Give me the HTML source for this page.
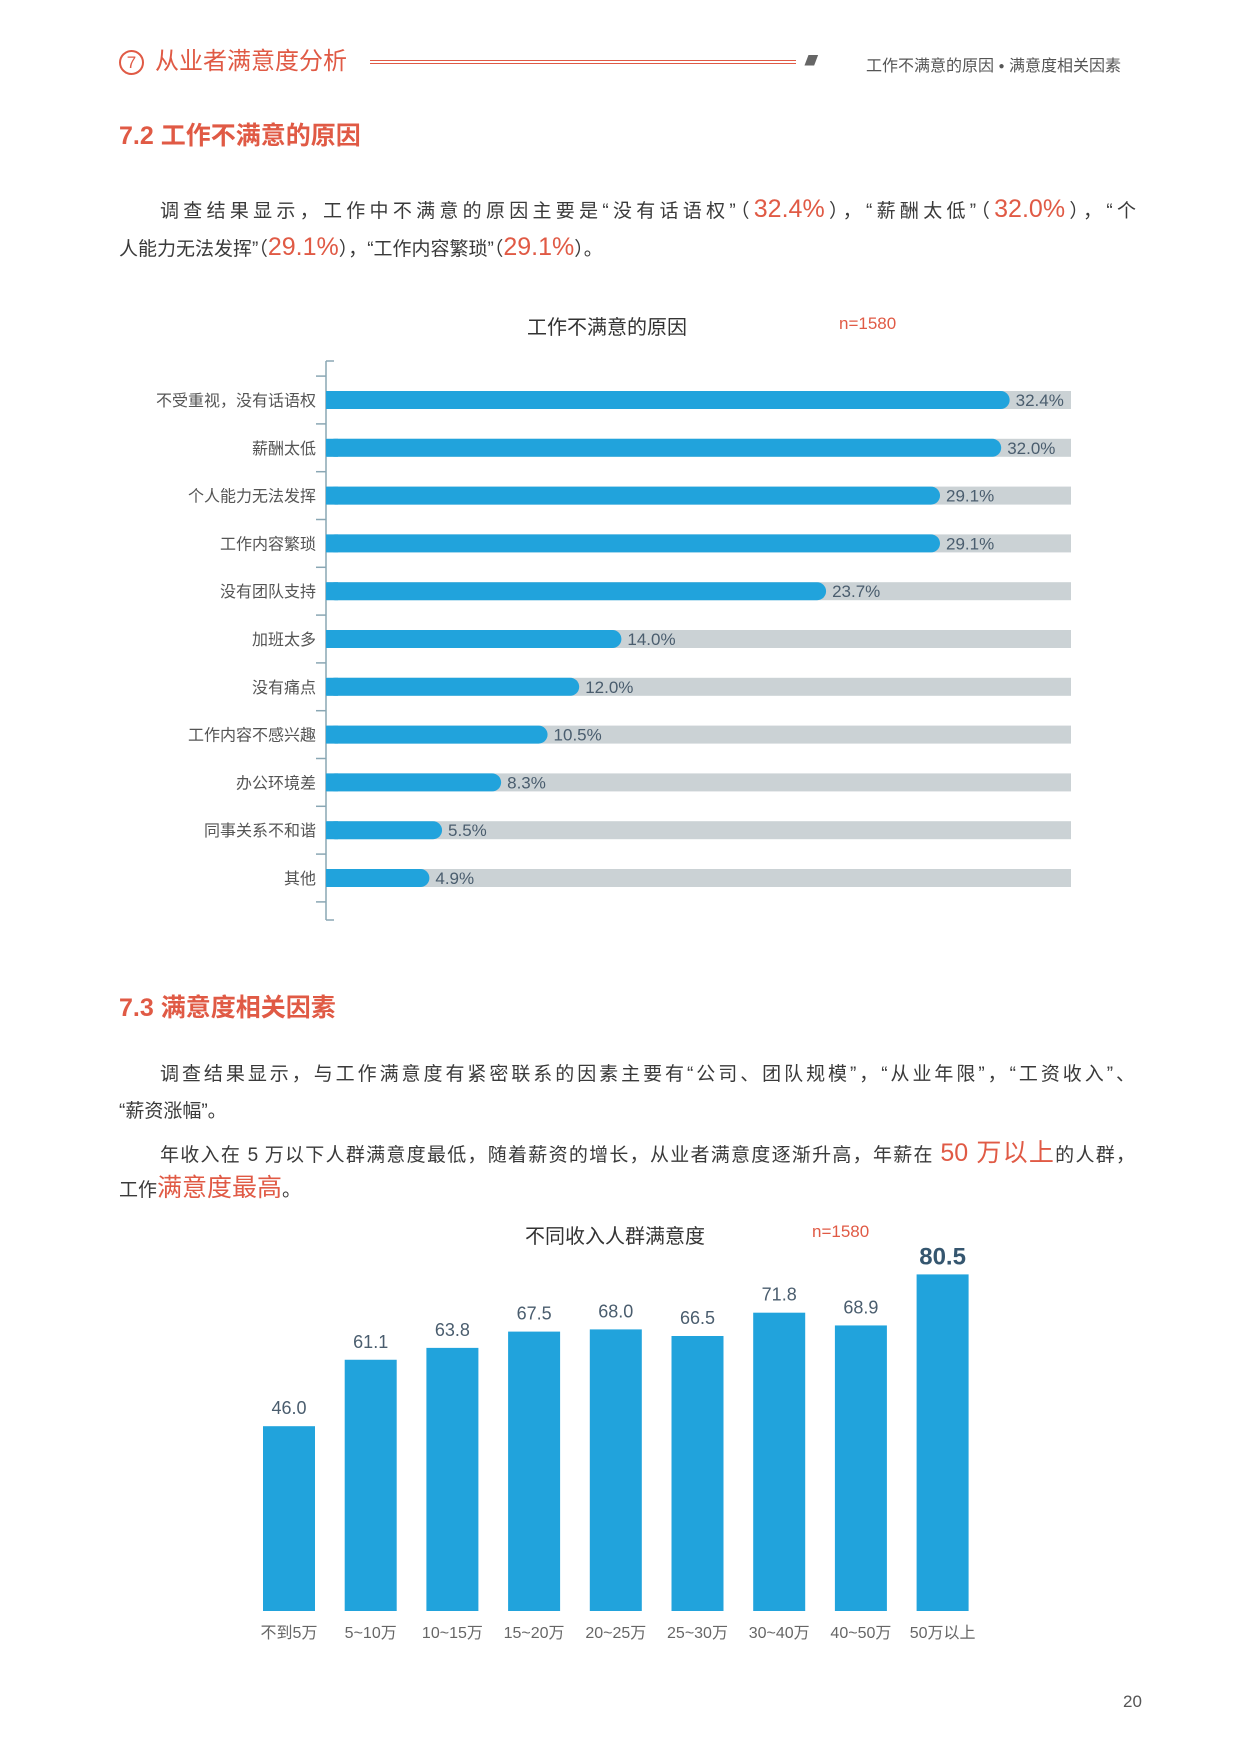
<!DOCTYPE html>
<html><head><meta charset="utf-8">
<style>
body{margin:0;background:#fff;}
#page{position:relative;width:1240px;height:1754px;overflow:hidden;background:#fff;font-family:"Liberation Sans","Noto Sans CJK SC",sans-serif;color:#444;}
.a{position:absolute;white-space:nowrap;}
.p{font-size:19px;line-height:26px;color:#3a3a3a;}
.j{text-align:justify;text-align-last:justify;}
.r{color:#e05a45;font-size:25px;}
</style></head><body>
<div id="page">
  <!-- header -->
  <div class="a" style="left:119px;top:50px;width:21px;height:21px;border:2px solid #e05a45;border-radius:50%;color:#e05a45;font-size:17px;line-height:21px;text-align:center;">7</div>
  <div class="a" style="left:155px;top:47px;font-size:24px;line-height:30px;color:#e05a45;">从业者满意度分析</div>
  <div class="a" style="left:370px;top:60px;width:426px;height:2px;border-top:1.5px solid #e05a45;border-bottom:1.5px solid #e05a45;"></div>
  <div class="a" style="left:805px;top:52px;font-size:14px;color:#666;letter-spacing:-3px;font-style:italic;font-weight:bold;">//////////</div>
  <div class="a" style="left:866px;top:52px;font-size:16px;color:#555;">工作不满意的原因 <span style="font-size:10px;vertical-align:2px;">●</span> 满意度相关因素</div>

  <div class="a" style="left:119px;top:116px;font-size:25px;font-weight:bold;color:#e05a45;">7.2 工作不满意的原因</div>
  <div class="a p j" style="left:160px;top:196px;width:976px;">调查结果显示，工作中不满意的原因主要是“没有话语权”（<span class="r">32.4%</span>），“薪酬太低”（<span class="r">32.0%</span>），“个</div>
  <div class="a p" style="left:119px;top:234px;">人能力无法发挥”（<span class="r">29.1%</span>），“工作内容繁琐”（<span class="r">29.1%</span>）。</div>

  <div class="a" style="left:527px;top:311px;font-size:20px;color:#333;">工作不满意的原因</div>
  <div class="a" style="left:839px;top:314px;font-size:17px;color:#e05a45;">n=1580</div>

  <svg class="a" id="chart1" style="left:0;top:340px;" width="1240" height="600"></svg>

  <div class="a" style="left:119px;top:988px;font-size:25px;font-weight:bold;color:#e05a45;">7.3 满意度相关因素</div>
  <div class="a p j" style="left:160px;top:1062px;width:975px;">调查结果显示，与工作满意度有紧密联系的因素主要有“公司、团队规模”，“从业年限”，“工资收入”、</div>
  <div class="a p" style="left:119px;top:1099px;">“薪资涨幅”。</div>
  <div class="a p j" style="left:160px;top:1140px;width:975px;">年收入在 5 万以下人群满意度最低，随着薪资的增长，从业者满意度逐渐升高，年薪在 <span class="r">50 万以上</span>的人群，</div>
  <div class="a p" style="left:119px;top:1175px;">工作<span class="r">满意度最高</span>。</div>

  <div class="a" style="left:525px;top:1220px;font-size:20px;color:#333;">不同收入人群满意度</div>
  <div class="a" style="left:812px;top:1222px;font-size:17px;color:#e05a45;">n=1580</div>

  <svg class="a" id="chart2" style="left:0;top:1240px;" width="1240" height="420"></svg>

  <div class="a" style="left:1123px;top:1692px;font-size:17px;color:#555;">20</div>
</div>
<script>
const reasonCategories = ["不受重视，没有话语权","薪酬太低","个人能力无法发挥","工作内容繁琐","没有团队支持","加班太多","没有痛点","工作内容不感兴趣","办公环境差","同事关系不和谐","其他"];
const reasonValues = [32.4,32.0,29.1,29.1,23.7,14.0,12.0,10.5,8.3,5.5,4.9];
const reasonLabels = ["32.4%","32.0%","29.1%","29.1%","23.7%","14.0%","12.0%","10.5%","8.3%","5.5%","4.9%"];

const incomeCategories = ["不到5万","5~10万","10~15万","15~20万","20~25万","25~30万","30~40万","40~50万","50万以上"];
const incomeValues = [46.0,61.1,63.8,67.5,68.0,66.5,71.8,68.9,80.5];
const incomeLabels = ["46.0","61.1","63.8","67.5","68.0","66.5","71.8","68.9","80.5"];

const NS = "http://www.w3.org/2000/svg";
function mk(svg, tag, attrs, text){
  const e = document.createElementNS(NS, tag);
  for (const k in attrs) e.setAttribute(k, attrs[k]);
  if (text !== undefined) e.textContent = text;
  svg.appendChild(e);
  return e;
}
// Chart 1 (svg top offset 340)
(function(){
  const svg = document.getElementById('chart1');
  const off = 340;
  const x0 = 326, pxPer = 21.1, trackMax = 1071;
  const y = i => 400 - off + i * 47.8;
  const x = v => x0 + v * pxPer;
  const axis = mk(svg, 'line', {x1:x0, y1:361-off, x2:x0, y2:920-off, stroke:'#8aa7b4', 'stroke-width':1.5});
  
  
  for (let i = 0; i <= reasonCategories.length; i++) {
    const ty = y(i) - 23.9;
    const t = mk(svg, 'line', {x1:x0-10, y1:ty, x2:x0, y2:ty, stroke:'#8aa7b4', 'stroke-width':1.5});
    
    
  }
  const topT = mk(svg, 'line', {x1:x0, y1:361-off, x2:x0+8, y2:361-off, stroke:'#8aa7b4', 'stroke-width':1.5});
  
  
  const botT = mk(svg, 'line', {x1:x0, y1:920-off, x2:x0+8, y2:920-off, stroke:'#8aa7b4', 'stroke-width':1.5});
  
  
  reasonCategories.forEach((c, i) => {
    const cy = y(i);
    const track = mk(svg, 'rect', {x:x0, y:cy-9, width:trackMax-x0, height:18, fill:'#cbd2d5'});
    
    
    const w = x(reasonValues[i]) - x0;
    const bar = mk(svg, 'rect', {x:x0, y:cy-9, width:w, height:18, rx:9, fill:'#21a3dc'});
    
    
    const sq = mk(svg, 'rect', {x:x0, y:cy-9, width:Math.min(12,w), height:18, fill:'#21a3dc'});
    
    
    const lab = mk(svg, 'text', {x:x0-10, y:cy+6, 'text-anchor':'end', 'font-size':16, fill:'#555'}, c);
    
    
    const val = mk(svg, 'text', {x:x(reasonValues[i])+6, y:cy+6, 'font-size':17, fill:'#4a5d6e'}, reasonLabels[i]);
    
    
  });
})();
// Chart 2 (svg top offset 1240)
(function(){
  const svg = document.getElementById('chart2');
  const off = 1240;
  const base = 1611, vmin = 4, pxPer = 4.4;
  const y = v => base - (v - vmin) * pxPer - off;
  const xc = i => 289 + i * 81.7;
  const bw = 52;
  incomeCategories.forEach((c, i) => {
    const top = y(incomeValues[i]);
    const bar = mk(svg, 'rect', {x:xc(i)-bw/2, y:top, width:bw, height:base-off-top, fill:'#21a3dc'});
    
    
    const last = i === incomeCategories.length - 1;
    const val = mk(svg, 'text', {x:xc(i), y:top - (last ? 10 : 12), 'text-anchor':'middle', 'font-size': last ? 24 : 18, 'font-weight': last ? 'bold' : 'normal', fill: last ? '#35566f' : '#4a5d6e'}, incomeLabels[i]);
    
    
    const lab = mk(svg, 'text', {x:xc(i), y:1638-off, 'text-anchor':'middle', 'font-size':16, fill:'#666'}, c);
    
    
  });
})();
</script>
</body></html>
